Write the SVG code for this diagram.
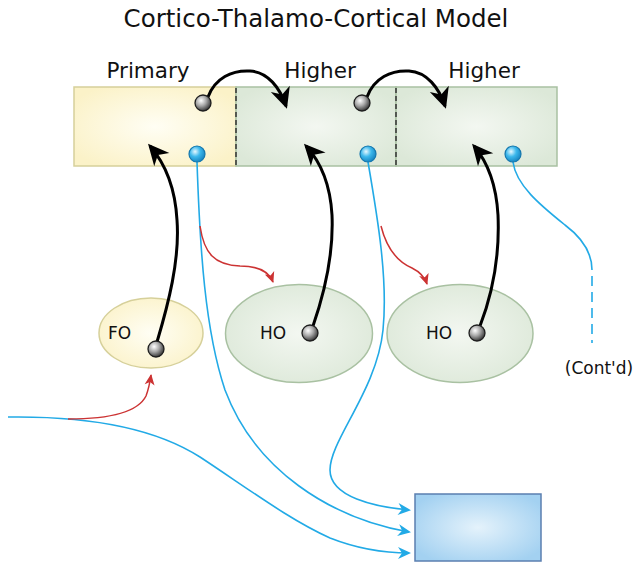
<svg xmlns="http://www.w3.org/2000/svg" width="637" height="564" viewBox="0 0 637 564">
  <style>
    text { font-family: "DejaVu Sans", "Liberation Sans", sans-serif; fill: #111; }
    .title { font-size: 24.5px; text-anchor: middle; }
    .area-label { font-size: 21.5px; text-anchor: middle; }
    .nucleus-label { font-size: 17px; }
    .note { font-size: 17px; text-anchor: middle; }
    .yellow { fill: url(#gYellow); stroke: #d6d09a; stroke-width: 1.5; }
    .green { fill: url(#gGreen); stroke: #a9c1a2; stroke-width: 1.5; }
    .divider { stroke: #333; stroke-width: 1.5; stroke-dasharray: 5 3; }
    .soma { fill: url(#gGray); stroke: #1e1e1e; stroke-width: 1.3; }
    .axon-cell { fill: url(#gBlue); stroke: #1577ad; stroke-width: 1.2; }
    .black { fill: none; stroke: #000; stroke-width: 3; marker-end: url(#ahBlack); }
    .blue { fill: none; stroke: #22aae6; stroke-width: 1.6; }
    .blue-arrow { marker-end: url(#ahBlue); }
    .red { fill: none; stroke: #cc3333; stroke-width: 1.5; marker-end: url(#ahRed); }
  </style>
  <defs>
    <radialGradient id="gYellow" cx="50%" cy="50%" r="60%">
      <stop offset="0" stop-color="#fffef4"/>
      <stop offset="1" stop-color="#fbf2c8"/>
    </radialGradient>
    <radialGradient id="gGreen" cx="50%" cy="50%" r="60%">
      <stop offset="0" stop-color="#f3f7f1"/>
      <stop offset="1" stop-color="#dce8d8"/>
    </radialGradient>
    <radialGradient id="gBox" cx="50%" cy="50%" r="60%">
      <stop offset="0" stop-color="#e4f2fb"/>
      <stop offset="1" stop-color="#a3d1f1"/>
    </radialGradient>
    <radialGradient id="gGray" cx="38%" cy="35%" r="65%">
      <stop offset="0" stop-color="#ffffff"/>
      <stop offset="0.5" stop-color="#a8a8a8"/>
      <stop offset="1" stop-color="#3c3c3c"/>
    </radialGradient>
    <radialGradient id="gBlue" cx="38%" cy="35%" r="65%">
      <stop offset="0" stop-color="#e6f8ff"/>
      <stop offset="0.5" stop-color="#3cb8ec"/>
      <stop offset="1" stop-color="#1a88c4"/>
    </radialGradient>
    <marker id="ahBlack" viewBox="-24 -11 26 22" refX="-3" refY="0" markerWidth="26" markerHeight="22" markerUnits="userSpaceOnUse" orient="auto">
      <path d="M0,0 L-21,-10 L-15,0 L-21,10 Z" fill="#000"/>
    </marker>
    <marker id="ahBlue" viewBox="-14 -7 16 14" refX="-2" refY="0" markerWidth="16" markerHeight="14" markerUnits="userSpaceOnUse" orient="auto">
      <path d="M0,0 L-13,-6 L-9,0 L-13,6 Z" fill="#22aae6"/>
    </marker>
    <marker id="ahRed" viewBox="-12 -6 14 12" refX="-1" refY="0" markerWidth="14" markerHeight="12" markerUnits="userSpaceOnUse" orient="auto">
      <path d="M0,0 L-11,-5 L-8,0 L-11,5 Z" fill="#cc3333"/>
    </marker>
  </defs>

  <text class="title" x="316" y="27">Cortico-Thalamo-Cortical Model</text>

  <!-- cortical areas -->
  <g id="area-primary">
    <rect class="yellow" x="74" y="87" width="162" height="79"/>
    <text class="area-label" x="148" y="78">Primary</text>
  </g>
  <g id="area-higher-1">
    <rect class="green" x="236" y="87" width="160" height="79"/>
    <text class="area-label" x="320" y="78">Higher</text>
  </g>
  <g id="area-higher-2">
    <rect class="green" x="396" y="87" width="161" height="79"/>
    <text class="area-label" x="484" y="78">Higher</text>
  </g>
  <line class="divider" x1="236" y1="88" x2="236" y2="165"/>
  <line class="divider" x1="396" y1="88" x2="396" y2="165"/>

  <!-- thalamic nuclei -->
  <g id="nucleus-fo">
    <ellipse class="yellow" cx="151" cy="333" rx="52" ry="35"/>
    <text class="nucleus-label" x="108" y="339">FO</text>
  </g>
  <g id="nucleus-ho-1">
    <ellipse class="green" cx="299" cy="333.5" rx="73.5" ry="49"/>
    <text class="nucleus-label" x="260" y="339">HO</text>
  </g>
  <g id="nucleus-ho-2">
    <ellipse class="green" cx="460" cy="333.5" rx="73" ry="49"/>
    <text class="nucleus-label" x="426" y="339">HO</text>
  </g>

  <g id="target">
    <rect x="415" y="494" width="126" height="67" fill="url(#gBox)" stroke="#5b7fb0" stroke-width="1.5"/>
  </g>

  <g id="cont-note">
    <text class="note" x="599" y="374">(Cont'd)</text>
  </g>

  <!-- connectors -->
  <g id="connectors">
    <!-- cortico-cortical -->
    <path class="black" d="M208,97 C215,78 232,70 250,71 C268,72 280,88 286,106"/>
    <path class="black" d="M367,97 C374,78 391,70 409,71 C427,72 439,88 445,106"/>
    <!-- thalamo-cortical -->
    <path class="black" d="M157,342 C168,305 180,260 177,220 C175,185 163,161 150,146"/>
    <path class="black" d="M313,326 C322,300 334,260 332,215 C330,180 318,159 306,146"/>
    <path class="black" d="M480,326 C490,300 500,260 498,215 C496,180 485,159 474,146"/>

    <!-- layer 5 outputs -->
    <path class="blue blue-arrow" d="M197,162 C200,250 205,330 225,390 C255,470 330,518 409,532"/>
    <path class="blue blue-arrow" d="M368,162 C378,220 388,280 383,330 C377,390 330,440 330,470 C330,497 375,507 409,510"/>
    <path class="blue blue-arrow" d="M8,417 C80,416 150,425 200,457 C250,490 290,520 330,538 C358,549 385,553 409,553"/>
    <path class="blue" d="M513,162 C516,185 540,205 565,225 C585,240 592,255 592,270"/>
    <path class="blue" stroke-dasharray="10 6" d="M592,276 L592,343"/>

    <!-- branches to thalamus -->
    <path class="red" d="M68,419 C110,419 138,412 146,396 C149,388 150,382 151,375"/>
    <path class="red" d="M200,226 C204,253 214,265 240,266 C262,266 270,274 273,282"/>
    <path class="red" d="M381,226 C387,250 398,262 412,268 C420,272 425,278 427,284"/>
  </g>

  <!-- cell bodies -->
  <g id="cells">
    <circle class="soma" cx="203" cy="103" r="8"/>
    <circle class="soma" cx="362" cy="103" r="8"/>
    <circle class="soma" cx="156" cy="349" r="8"/>
    <circle class="soma" cx="310" cy="333" r="8"/>
    <circle class="soma" cx="477" cy="333" r="8"/>
    <circle class="axon-cell" cx="197" cy="154" r="8"/>
    <circle class="axon-cell" cx="368" cy="154" r="8"/>
    <circle class="axon-cell" cx="513" cy="154" r="8"/>
  </g>
</svg>
